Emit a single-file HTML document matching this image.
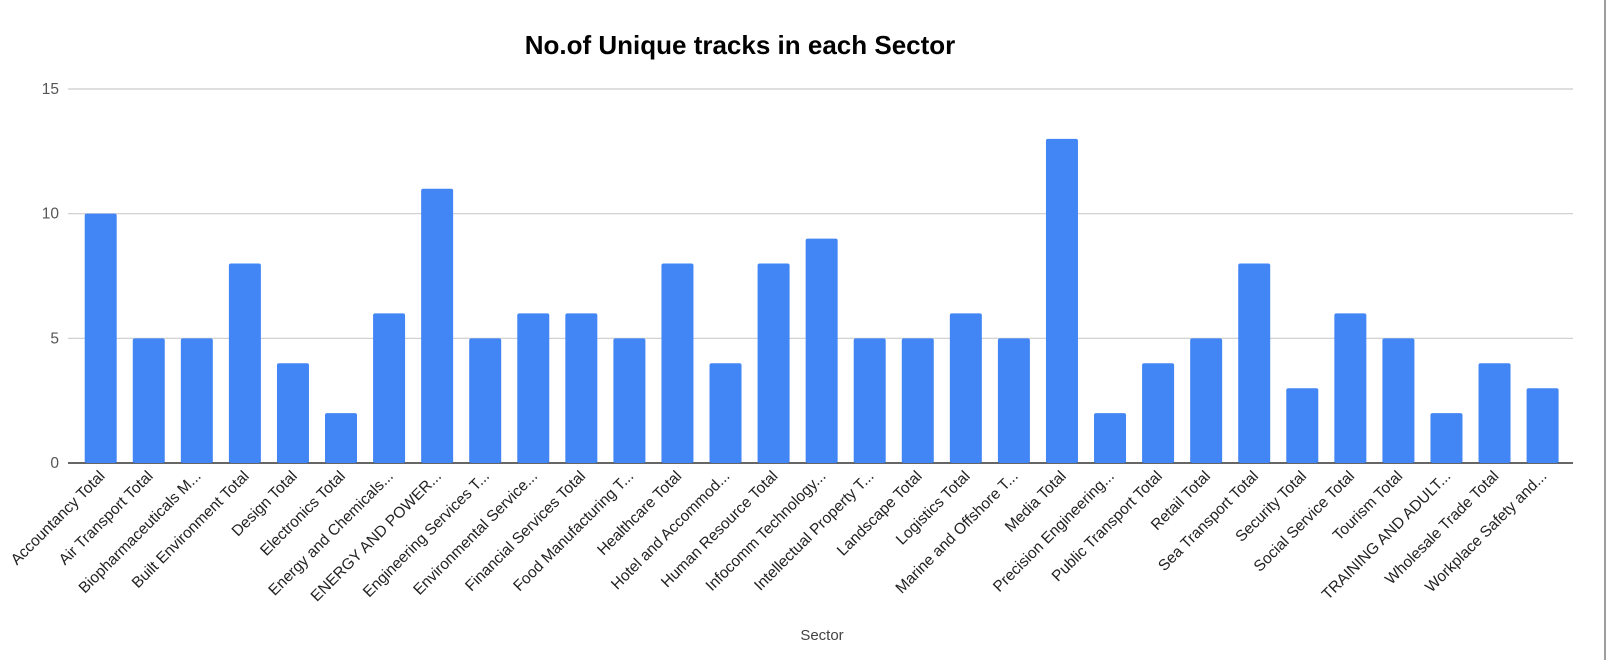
<!DOCTYPE html>
<html><head><meta charset="utf-8"><style>
body{margin:0;background:#fff;width:1610px;height:660px;overflow:hidden;font-family:"Liberation Sans",sans-serif}
</style></head><body>
<svg id="chart" width="1610" height="660" xmlns="http://www.w3.org/2000/svg">
<line x1="1605" y1="0" x2="1605" y2="660" stroke="#9e9e9e" stroke-width="2"/>
<text x="740" y="54" text-anchor="middle" font-size="26" font-weight="bold" fill="#000">No.of Unique tracks in each Sector</text>
<text x="822" y="640" text-anchor="middle" font-size="15" fill="#444">Sector</text>
<g id="grid"></g><g id="bars"></g><g id="labels"></g>
</svg>
<script>
const categories=["Accountancy Total","Air Transport Total","Biopharmaceuticals M...","Built Environment Total","Design Total","Electronics Total","Energy and Chemicals...","ENERGY AND POWER...","Engineering Services T...","Environmental Service...","Financial Services Total","Food Manufacturing T...","Healthcare Total","Hotel and Accommod...","Human Resource Total","Infocomm Technology...","Intellectual Property T...","Landscape Total","Logistics Total","Marine and Offshore T...","Media Total","Precision Engineering...","Public Transport Total","Retail Total","Sea Transport Total","Security Total","Social Service Total","Tourism Total","TRAINING AND ADULT...","Wholesale Trade Total","Workplace Safety and..."];
const values=[10,5,5,8,4,2,6,11,5,6,6,5,8,4,8,9,5,5,6,5,13,2,4,5,8,3,6,5,2,4,3];
const yTicks=[0,5,10,15];
const NS="http://www.w3.org/2000/svg";
const x0=68,x1=1573,yb=463,yt=89,ymax=15;
const y=v=>yb-(yb-yt)*v/ymax;
const firstC=100.7,lastC=1542.6;
const step=(lastC-firstC)/(categories.length-1);
const xc=i=>firstC+step*i;
const bw=32;
const grid=document.getElementById('grid'),bars=document.getElementById('bars'),labels=document.getElementById('labels');
yTicks.forEach(t=>{
  const l=document.createElementNS(NS,'line');
  
  
  l.setAttribute('x1',x0);l.setAttribute('x2',x1);l.setAttribute('y1',y(t));l.setAttribute('y2',y(t));
  l.setAttribute('stroke',t===0?'#333':'#ccc');l.setAttribute('stroke-width',t===0?1.5:1.2);
  grid.appendChild(l);
  const tx=document.createElementNS(NS,'text');
  
  
  tx.setAttribute('x',59);tx.setAttribute('y',y(t)+5);tx.setAttribute('text-anchor','end');
  tx.setAttribute('font-size','15.5');tx.setAttribute('fill','#555');tx.textContent=t;
  grid.appendChild(tx);
});
values.forEach((v,i)=>{
  const r=document.createElementNS(NS,'rect');
  
  
  r.setAttribute('x',xc(i)-bw/2);r.setAttribute('y',y(v));r.setAttribute('width',bw);r.setAttribute('height',yb-y(v));
  r.setAttribute('rx',2);r.setAttribute('fill','#4285f4');
  bars.appendChild(r);
  const t=document.createElementNS(NS,'text');
  
  
  const lx=xc(i)+5,ly=yb+14;
  t.setAttribute('x',lx);t.setAttribute('y',ly);t.setAttribute('text-anchor','end');
  t.setAttribute('font-size','15.5');t.setAttribute('fill','#222');
  t.setAttribute('transform','rotate(-45 '+lx+' '+ly+')');
  t.textContent=categories[i];
  labels.appendChild(t);
});
</script>
</body></html>
